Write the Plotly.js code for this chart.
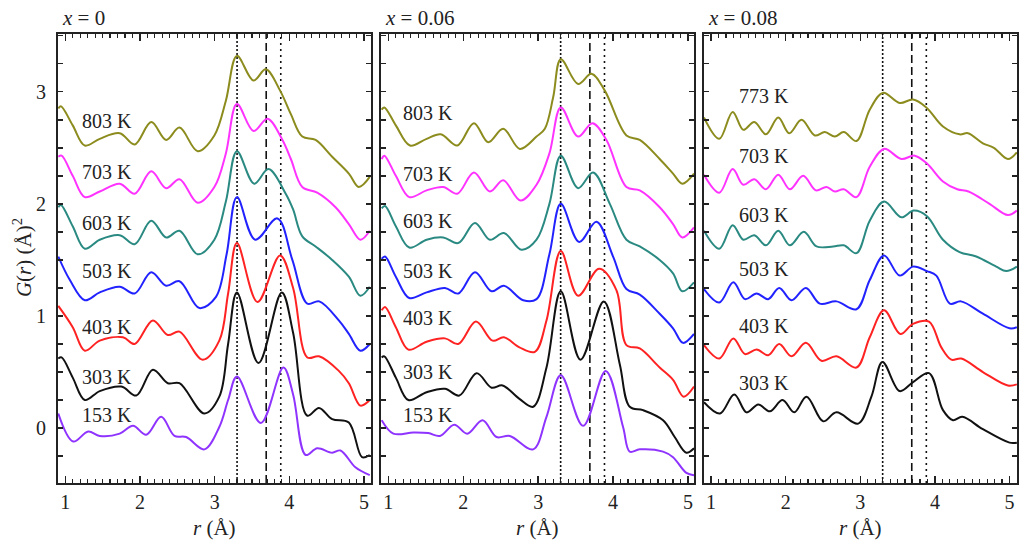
<!DOCTYPE html>
<html>
<head>
<meta charset="utf-8">
<script src="https://cdn.plot.ly/plotly-3.0.1.min.js"></script>
<style>
  body { margin: 0; background: #fff; }
  #grafico { width: 1024px; height: 547px; }
</style>
</head>
<body>
<div id="grafico"></div>
<script>
// panel x = 0
var rA803 = [0.907, 0.942, 1.10, 1.262, 1.462, 1.729, 1.929, 2.151, 2.351, 2.529, 2.773, 2.996, 3.15, 3.298, 3.52, 3.684, 3.876, 4.02, 4.173, 4.351, 4.573, 4.796, 4.929, 5.076];
var gA803 = [2.85, 2.87, 2.70, 2.52, 2.58, 2.63, 2.53, 2.73, 2.57, 2.68, 2.47, 2.61, 2.92, 3.32, 3.10, 3.20, 3.01, 2.80, 2.60, 2.57, 2.42, 2.27, 2.15, 2.24];
var rA703 = [0.907, 0.951, 1.10, 1.262, 1.462, 1.729, 1.929, 2.151, 2.351, 2.529, 2.773, 2.996, 3.15, 3.298, 3.52, 3.707, 3.907, 4.02, 4.173, 4.373, 4.618, 4.796, 4.951, 5.076];
var gA703 = [2.42, 2.43, 2.25, 2.06, 2.11, 2.18, 2.09, 2.29, 2.14, 2.22, 2.01, 2.15, 2.45, 2.89, 2.65, 2.76, 2.57, 2.40, 2.15, 2.10, 1.97, 1.82, 1.68, 1.76];
var rA603 = [0.907, 0.942, 1.10, 1.262, 1.462, 1.729, 1.929, 2.151, 2.351, 2.529, 2.773, 2.996, 3.15, 3.298, 3.529, 3.72, 3.951, 4.05, 4.173, 4.351, 4.573, 4.796, 4.951, 5.076];
var gA603 = [1.97, 1.99, 1.80, 1.60, 1.68, 1.72, 1.64, 1.85, 1.70, 1.76, 1.55, 1.68, 2.02, 2.47, 2.18, 2.31, 2.09, 1.95, 1.71, 1.62, 1.50, 1.35, 1.18, 1.26];
var rA503 = [0.907, 1.062, 1.262, 1.462, 1.729, 1.929, 2.151, 2.351, 2.529, 2.796, 3.018, 3.16, 3.298, 3.542, 3.84, 4.04, 4.24, 4.40, 4.662, 4.796, 4.951, 5.076];
var gA503 = [1.53, 1.32, 1.14, 1.21, 1.26, 1.20, 1.39, 1.27, 1.31, 1.07, 1.17, 1.55, 2.06, 1.68, 1.87, 1.50, 1.11, 1.13, 0.96, 0.84, 0.69, 0.75];
var rA403 = [0.907, 1.10, 1.262, 1.462, 1.773, 1.929, 2.173, 2.373, 2.529, 2.84, 3.062, 3.18, 3.298, 3.573, 3.876, 4.05, 4.24, 4.396, 4.662, 4.796, 4.951, 5.076];
var gA403 = [1.09, 0.90, 0.69, 0.78, 0.81, 0.75, 0.96, 0.83, 0.86, 0.61, 0.78, 1.20, 1.65, 1.125, 1.54, 1.25, 0.63, 0.64, 0.51, 0.40, 0.20, 0.25];
var rA303 = [0.907, 0.951, 1.10, 1.262, 1.462, 1.751, 1.951, 2.173, 2.373, 2.529, 2.862, 3.062, 3.18, 3.298, 3.587, 3.898, 4.05, 4.24, 4.396, 4.573, 4.796, 4.973, 5.076];
var gA303 = [0.62, 0.63, 0.45, 0.25, 0.33, 0.37, 0.29, 0.52, 0.40, 0.40, 0.13, 0.28, 0.75, 1.21, 0.58, 1.21, 0.85, 0.11, 0.18, 0.08, 0.05, -0.26, -0.24];
var rA153 = [0.907, 1.107, 1.307, 1.462, 1.729, 1.907, 2.084, 2.284, 2.462, 2.618, 2.862, 3.062, 3.18, 3.298, 3.618, 3.92, 4.05, 4.218, 4.373, 4.573, 4.684, 4.884, 5.076];
var gA153 = [0.13, -0.12, -0.03, -0.07, -0.05, 0.02, -0.06, 0.10, -0.07, -0.08, -0.19, 0.01, 0.25, 0.46, 0.045, 0.54, 0.30, -0.24, -0.18, -0.22, -0.20, -0.35, -0.42];

// panel x = 0.06
var rB803 = [0.911, 0.947, 1.10, 1.289, 1.511, 1.70, 1.92, 2.142, 2.333, 2.533, 2.756, 2.978, 3.089, 3.20, 3.302, 3.533, 3.711, 3.889, 4.178, 4.356, 4.622, 4.8, 4.924, 5.08];
var gB803 = [2.84, 2.86, 2.70, 2.52, 2.58, 2.62, 2.52, 2.72, 2.55, 2.67, 2.49, 2.60, 2.67, 2.95, 3.29, 3.07, 3.16, 3.01, 2.61, 2.57, 2.40, 2.27, 2.18, 2.27];
var rB703 = [0.911, 0.947, 1.10, 1.28, 1.511, 1.733, 1.92, 2.142, 2.356, 2.533, 2.764, 2.978, 3.15, 3.302, 3.533, 3.724, 3.911, 4.178, 4.356, 4.622, 4.8, 4.924, 5.08];
var gB703 = [2.40, 2.43, 2.25, 2.06, 2.12, 2.15, 2.09, 2.28, 2.11, 2.21, 2.03, 2.17, 2.45, 2.86, 2.60, 2.72, 2.57, 2.15, 2.12, 1.97, 1.82, 1.70, 1.79];
var rB603 = [0.911, 0.956, 1.10, 1.28, 1.511, 1.733, 1.933, 2.156, 2.356, 2.542, 2.778, 2.978, 3.15, 3.302, 3.533, 3.733, 3.956, 4.178, 4.356, 4.622, 4.8, 4.924, 5.08];
var gB603 = [1.96, 1.98, 1.80, 1.61, 1.68, 1.70, 1.65, 1.83, 1.68, 1.74, 1.59, 1.68, 2.00, 2.43, 2.14, 2.28, 2.00, 1.68, 1.62, 1.50, 1.38, 1.22, 1.30];
var rB503 = [0.911, 0.956, 1.10, 1.28, 1.511, 1.756, 1.933, 2.156, 2.378, 2.542, 2.8, 2.978, 3.15, 3.302, 3.547, 3.778, 4.0, 4.178, 4.356, 4.622, 4.8, 4.933, 5.08];
var gB503 = [1.51, 1.53, 1.35, 1.16, 1.21, 1.25, 1.20, 1.39, 1.22, 1.27, 1.14, 1.15, 1.55, 2.00, 1.66, 1.84, 1.53, 1.24, 1.19, 1.02, 0.89, 0.76, 0.84];
var rB403 = [0.911, 0.956, 1.10, 1.267, 1.511, 1.756, 1.933, 2.169, 2.391, 2.542, 2.75, 2.956, 3.111, 3.302, 3.533, 3.813, 4.044, 4.178, 4.356, 4.622, 4.8, 4.942, 5.08];
var gB403 = [1.05, 1.08, 0.90, 0.70, 0.77, 0.80, 0.75, 0.95, 0.78, 0.81, 0.72, 0.68, 0.96, 1.58, 1.18, 1.42, 1.23, 0.74, 0.71, 0.54, 0.43, 0.28, 0.37];
var rB303 = [0.911, 0.947, 1.10, 1.267, 1.511, 1.756, 1.947, 2.178, 2.378, 2.524, 2.75, 2.933, 3.111, 3.302, 3.564, 3.876, 4.089, 4.222, 4.4, 4.667, 4.822, 4.978, 5.08];
var gB303 = [0.63, 0.64, 0.45, 0.25, 0.32, 0.35, 0.29, 0.49, 0.36, 0.38, 0.26, 0.19, 0.54, 1.22, 0.61, 1.13, 0.57, 0.19, 0.16, 0.07, -0.08, -0.22, -0.18];
var rB153 = [0.911, 1.067, 1.333, 1.533, 1.689, 1.88, 2.053, 2.258, 2.444, 2.622, 2.933, 3.111, 3.302, 3.6, 3.902, 4.133, 4.222, 4.356, 4.667, 4.8, 4.978, 5.08];
var gB153 = [0.07, -0.05, -0.04, -0.045, -0.07, 0.03, -0.05, 0.07, -0.08, -0.07, -0.19, 0.10, 0.47, 0.02, 0.51, 0.01, -0.21, -0.19, -0.21, -0.26, -0.40, -0.42];

// panel x = 0.08
var rC773 = [0.906, 1.111, 1.29, 1.433, 1.58, 1.736, 1.901, 2.048, 2.213, 2.391, 2.525, 2.659, 2.779, 2.949, 3.127, 3.305, 3.528, 3.707, 3.885, 4.108, 4.331, 4.443, 4.643, 4.79, 4.978, 5.098];
var gC773 = [2.77, 2.58, 2.82, 2.66, 2.73, 2.62, 2.77, 2.63, 2.75, 2.61, 2.64, 2.60, 2.64, 2.56, 2.84, 2.99, 2.90, 2.93, 2.86, 2.69, 2.62, 2.63, 2.54, 2.50, 2.40, 2.46];
var rC703 = [0.906, 1.111, 1.29, 1.433, 1.58, 1.736, 1.901, 2.057, 2.235, 2.405, 2.547, 2.659, 2.779, 2.949, 3.127, 3.319, 3.551, 3.729, 3.894, 4.108, 4.30, 4.45, 4.732, 4.978, 5.098];
var gC703 = [2.26, 2.10, 2.31, 2.17, 2.22, 2.13, 2.26, 2.13, 2.25, 2.12, 2.15, 2.11, 2.13, 2.06, 2.33, 2.49, 2.40, 2.43, 2.36, 2.20, 2.13, 2.11, 2.00, 1.90, 1.94];
var rC603 = [0.906, 1.111, 1.29, 1.433, 1.58, 1.736, 1.901, 2.057, 2.244, 2.414, 2.637, 2.779, 2.949, 3.127, 3.319, 3.551, 3.716, 3.894, 4.108, 4.331, 4.554, 4.822, 4.955, 5.098];
var gC603 = [1.76, 1.60, 1.81, 1.68, 1.72, 1.63, 1.76, 1.63, 1.75, 1.62, 1.62, 1.63, 1.56, 1.85, 2.02, 1.88, 1.94, 1.89, 1.68, 1.57, 1.53, 1.44, 1.40, 1.44];
var rC503 = [0.906, 1.111, 1.299, 1.455, 1.611, 1.767, 1.914, 2.079, 2.271, 2.458, 2.681, 2.949, 3.127, 3.319, 3.528, 3.707, 3.894, 4.019, 4.20, 4.35, 4.643, 5.0, 5.098];
var gC503 = [1.24, 1.12, 1.30, 1.15, 1.20, 1.15, 1.25, 1.14, 1.25, 1.11, 1.13, 1.06, 1.32, 1.54, 1.36, 1.44, 1.40, 1.36, 1.11, 1.13, 1.02, 0.89, 0.90];
var rC403 = [0.906, 1.111, 1.299, 1.455, 1.611, 1.767, 1.914, 2.079, 2.271, 2.48, 2.681, 2.949, 3.127, 3.319, 3.537, 3.707, 3.921, 4.086, 4.22, 4.353, 4.643, 4.978, 5.098];
var gC403 = [0.74, 0.62, 0.80, 0.66, 0.70, 0.65, 0.75, 0.64, 0.76, 0.60, 0.64, 0.54, 0.81, 1.05, 0.84, 0.93, 0.95, 0.72, 0.61, 0.62, 0.50, 0.38, 0.39];
var rC303 = [0.906, 1.12, 1.312, 1.477, 1.633, 1.789, 1.959, 2.115, 2.28, 2.503, 2.681, 2.971, 3.149, 3.297, 3.528, 3.707, 3.921, 4.108, 4.242, 4.367, 4.643, 5.0, 5.098];
var gC303 = [0.23, 0.13, 0.30, 0.14, 0.21, 0.15, 0.25, 0.14, 0.28, 0.06, 0.14, 0.04, 0.28, 0.59, 0.33, 0.41, 0.49, 0.16, 0.07, 0.10, -0.01, -0.13, -0.13];

// temperature labels: [texto, r, G]
var etiqA = [['803 K', 1.565, 2.74], ['703 K', 1.565, 2.285], ['603 K', 1.565, 1.83], ['503 K', 1.565, 1.40], ['403 K', 1.565, 0.90], ['303 K', 1.565, 0.455], ['153 K', 1.565, 0.116]];
var etiqB = [['803 K', 1.53, 2.81], ['703 K', 1.53, 2.27], ['603 K', 1.53, 1.845], ['503 K', 1.53, 1.40], ['403 K', 1.53, 0.98], ['303 K', 1.53, 0.50], ['153 K', 1.53, 0.12]];
var etiqC = [['773 K', 1.713, 2.96], ['703 K', 1.713, 2.43], ['603 K', 1.713, 1.90], ['503 K', 1.713, 1.42], ['403 K', 1.713, 0.91], ['303 K', 1.713, 0.405]];

var titulos = ['<i>x</i> = 0', '<i>x</i> = 0.06', '<i>x</i> = 0.08'];
var lineasV = [3.30, 3.69, 3.885];

var colores = {
  olive: '#8c8c1e', magenta: '#ff33ff', teal: '#2a8a82', blue: '#2222ff',
  red: '#ff2222', black: '#111111', purple: '#8f33ff'
};

function curva(r, g, color, eje) {
  return {
    x: r, y: g, type: 'scatter', mode: 'lines',
    line: {color: color, width: 2, shape: 'spline', smoothing: 1},
    xaxis: 'x' + eje, yaxis: 'y' + eje, hoverinfo: 'skip'
  };
}

var data = [
  curva(rA803, gA803, colores.olive, ''), curva(rA703, gA703, colores.magenta, ''),
  curva(rA603, gA603, colores.teal, ''), curva(rA503, gA503, colores.blue, ''),
  curva(rA403, gA403, colores.red, ''), curva(rA303, gA303, colores.black, ''),
  curva(rA153, gA153, colores.purple, ''),
  curva(rB803, gB803, colores.olive, '2'), curva(rB703, gB703, colores.magenta, '2'),
  curva(rB603, gB603, colores.teal, '2'), curva(rB503, gB503, colores.blue, '2'),
  curva(rB403, gB403, colores.red, '2'), curva(rB303, gB303, colores.black, '2'),
  curva(rB153, gB153, colores.purple, '2'),
  curva(rC773, gC773, colores.olive, '3'), curva(rC703, gC703, colores.magenta, '3'),
  curva(rC603, gC603, colores.teal, '3'), curva(rC503, gC503, colores.blue, '3'),
  curva(rC403, gC403, colores.red, '3'), curva(rC303, gC303, colores.black, '3')
];

var fuente = '"Liberation Serif"';
var tinta = '#222';

function ejeX(dominio, rango, ancla) {
  return {
    domain: dominio, range: rango, anchor: ancla,
    showline: true, linewidth: 2, linecolor: tinta, mirror: 'allticks',
    ticks: 'inside', ticklen: 7, tickwidth: 1.5, tickcolor: tinta,
    tick0: 0, dtick: 1,
    minor: {ticks: 'inside', dtick: 0.1, ticklen: 4, tickwidth: 1.2, tickcolor: tinta, showgrid: false},
    showgrid: false, zeroline: false,
    tickfont: {family: fuente, size: 20, color: tinta}
  };
}
function ejeY(ancla, etiquetas) {
  return {
    domain: [0, 1], range: [-0.49, 3.515], anchor: ancla,
    showline: true, linewidth: 2, linecolor: tinta, mirror: 'allticks',
    ticks: 'inside', ticklen: 5, tickwidth: 1.5, tickcolor: tinta,
    tick0: 0, dtick: 1,
    minor: {ticks: 'inside', dtick: 0.25, ticklen: 5, tickwidth: 1.5, tickcolor: tinta, showgrid: false},
    showgrid: false, zeroline: false, showticklabels: etiquetas,
    ticklabelstandoff: 6,
    tickfont: {family: fuente, size: 20, color: tinta}
  };
}

var dominios = [[0, 0.3264], [0.3368, 0.6632], [0.6736, 1]];

var shapes = [];
var sufijos = ['', '2', '3'];
var estilos = ['2px,2px', '8px,4px', '2px,4px'];
sufijos.forEach(function (s) {
  lineasV.forEach(function (xv, i) {
    shapes.push({
      type: 'line', xref: 'x' + s, yref: 'paper', x0: xv, x1: xv, y0: 0, y1: 1,
      line: {color: '#111', width: 1.6, dash: estilos[i]}, layer: 'below'
    });
  });
});

var annotations = [];
[etiqA, etiqB, etiqC].forEach(function (lista, k) {
  lista.forEach(function (e) {
    annotations.push({
      text: e[0], x: e[1], y: e[2], xref: 'x' + sufijos[k], yref: 'y' + sufijos[k],
      showarrow: false, font: {family: fuente, size: 20, color: tinta}
    });
  });
});
titulos.forEach(function (t, k) {
  annotations.push({
    text: t, x: dominios[k][0] + 0.002, y: 1.036, xref: 'paper', yref: 'paper',
    xanchor: 'left', yanchor: 'middle', showarrow: false,
    font: {family: fuente, size: 21, color: tinta}
  });
  annotations.push({
    text: '<i>r</i> (Å)', x: (dominios[k][0] + dominios[k][1]) / 2, y: -0.1,
    xref: 'paper', yref: 'paper', xanchor: 'center', yanchor: 'middle', showarrow: false,
    font: {family: fuente, size: 21, color: tinta}
  });
});
annotations.push({
  text: '<i>G</i>(<i>r</i>) (Å)<sup>2</sup>', x: -0.0375, y: 0.501, xref: 'paper', yref: 'paper',
  textangle: -90, xanchor: 'center', yanchor: 'middle', showarrow: false,
  font: {family: fuente, size: 21, color: tinta}
});

var layout = {
  width: 1024, height: 547,
  margin: {l: 58, r: 7, t: 34, b: 64},
  paper_bgcolor: '#fff', plot_bgcolor: '#fff',
  showlegend: false,
  font: {family: fuente, size: 20, color: tinta},
  xaxis: ejeX(dominios[0], [0.903, 5.093], 'y'),
  xaxis2: ejeX(dominios[1], [0.902, 5.08], 'y2'),
  xaxis3: ejeX(dominios[2], [0.906, 5.10], 'y3'),
  yaxis: ejeY('x', true),
  yaxis2: ejeY('x2', false),
  yaxis3: ejeY('x3', false),
  shapes: shapes,
  annotations: annotations
};

Plotly.newPlot('grafico', data, layout, {staticPlot: true});
</script>
</body>
</html>
